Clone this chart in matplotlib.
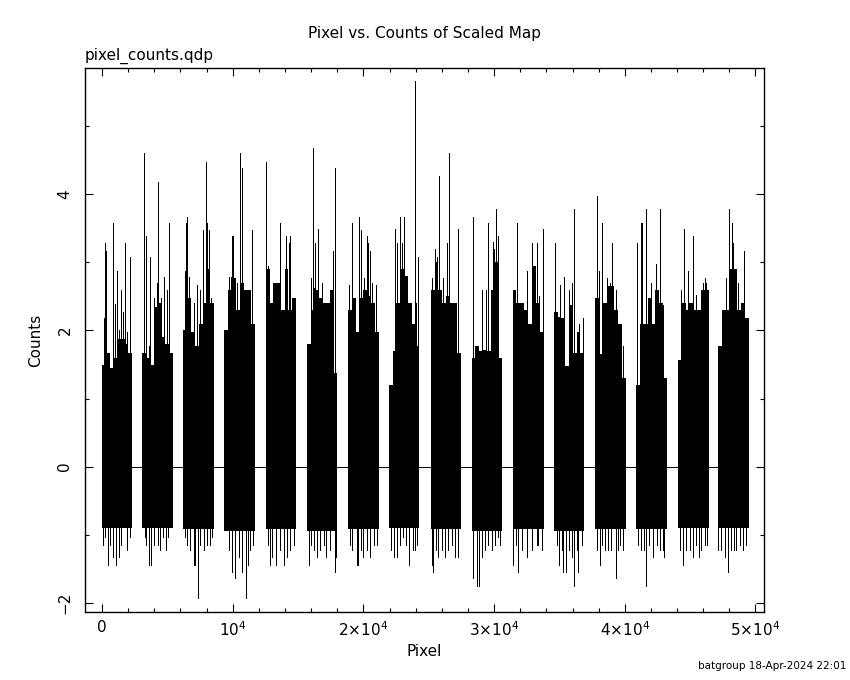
import numpy as np
import matplotlib
matplotlib.use("Agg")
import matplotlib.pyplot as plt
from matplotlib.ticker import FixedLocator, FixedFormatter, MultipleLocator

# Sixteen detector blocks (pixel index ranges); gaps between them read as 0 counts.
BLOCK_START = [0, 3094, 6227, 9360, 12546, 15678, 18834, 21944,
               25153, 28285, 31418, 34574, 37729, 40862, 44071, 47127]
BLOCK_END = [2307, 5440, 8596, 11728, 14838, 18016, 21180, 24282,
             27468, 30624, 33786, 36889, 40075, 43231, 46417, 49473]

# Bottom of the dense core in each block (counts)
CORE_LOW = [-0.90, -0.90, -0.92, -0.94, -0.92, -0.94, -0.92, -0.90,
            -0.92, -0.94, -0.92, -0.94, -0.92, -0.92, -0.90, -0.90]

# Upper envelope of the dense region, 8 equal sub-bins per block (counts)
SKYLINE = [
    [1.50, 1.67, 1.45, 1.60, 1.88, 1.88, 1.80, 1.67],
    [1.67, 1.60, 1.50, 2.35, 2.40, 1.90, 1.80, 1.67],
    [2.00, 2.48, 1.98, 1.77, 2.10, 2.40, 2.90, 2.40],
    [2.00, 2.60, 2.77, 2.30, 2.70, 2.59, 2.59, 2.09],
    [2.90, 2.40, 2.70, 2.70, 2.30, 2.90, 2.30, 2.48],
    [1.80, 2.30, 2.59, 2.48, 2.40, 2.40, 2.59, 1.38],
    [2.30, 2.48, 1.98, 2.48, 2.60, 2.50, 2.40, 1.98],
    [1.20, 1.70, 2.40, 2.90, 2.80, 2.40, 2.09, 1.77],
    [2.60, 3.00, 2.60, 2.40, 2.50, 2.40, 2.40, 1.67],
    [1.60, 1.77, 1.70, 1.72, 1.70, 2.60, 3.00, 1.60],
    [2.59, 2.40, 2.40, 2.30, 2.10, 2.95, 2.40, 1.98],
    [2.27, 2.20, 2.19, 1.48, 2.37, 1.67, 1.98, 1.67],
    [2.48, 1.65, 2.40, 2.66, 2.66, 2.30, 2.10, 1.30],
    [1.20, 2.10, 2.10, 2.48, 2.09, 2.60, 2.40, 1.30],
    [1.56, 2.40, 2.30, 2.40, 2.30, 2.30, 2.60, 2.60],
    [1.77, 2.30, 2.30, 2.90, 2.90, 2.30, 2.40, 2.19],
]

# Tall upward spikes: pixel index and counts
UP_X = [
    140, 267, 344, 828, 1006, 1184, 1337, 1464, 1592, 1745, 1923, 2127,
    3197, 3349, 3579, 3680, 3961, 4241, 4292, 4496, 4776, 4979, 5132,
    6329, 6406, 6508, 6635, 7017, 7272, 7527, 7730, 7934, 8010, 8163, 8316,
    9716, 9869, 9945, 10021, 10327, 10531, 10684, 11499,
    12569, 12722, 13639, 14047, 14276, 14352,
    16008, 16110, 16238, 16314, 16492, 16823, 17459, 17713, 17866,
    18937, 19141, 19701, 19803, 20083, 20262, 20389, 20516, 20643, 20975,
    22400, 22553, 22808, 22935, 23113, 23928, 24056, 24209,
    25228, 25483, 25661, 25814, 26119, 26374, 26578, 26883, 27266,
    28411, 29099, 29379, 29557, 29888, 30016, 30169, 30271,
    31722, 32486, 32918, 33043, 33301, 33451, 33705,
    34652, 35034, 35365, 35747, 35926, 36130, 36512, 36818,
    37836, 38014, 38294, 38651, 38855, 39008, 39364, 39874,
    40920, 41225, 41301, 41607, 42040, 42422, 42703, 42932,
    44329, 44507, 44838, 45220, 45475, 45985, 46137, 46239,
    47254, 47720, 47974, 48229, 48305, 48662, 49120, 49356,
]
UP_Y = [
    2.19, 3.28, 3.16, 3.58, 2.39, 2.88, 2.00, 2.59, 2.27, 3.28, 1.98, 3.08,
    4.60, 3.38, 1.77, 3.08, 2.48, 2.70, 4.18, 2.48, 2.78, 2.59, 3.58,
    2.88, 3.58, 3.66, 2.78, 2.40, 2.67, 2.59, 3.48, 4.47, 3.58, 3.48, 2.48,
    2.78, 2.78, 3.38, 3.38, 2.69, 4.60, 4.39, 3.48,
    4.47, 2.95, 3.58, 3.38, 3.28, 3.38,
    2.77, 4.68, 2.62, 3.28, 3.49, 2.69, 2.40, 3.16, 4.39,
    2.67, 3.58, 3.66, 3.48, 2.77, 3.38, 3.28, 3.16, 2.69, 2.67,
    3.49, 3.29, 3.66, 3.29, 3.66, 5.67, 2.40, 3.08,
    2.77, 3.19, 3.08, 4.27, 2.77, 3.29, 4.60, 2.40, 3.49,
    3.66, 2.59, 2.59, 3.58, 3.30, 3.19, 3.78, 3.38,
    3.58, 2.87, 3.28, 2.48, 3.29, 2.50, 3.49,
    3.28, 2.67, 2.78, 2.59, 2.69, 3.78, 2.09, 2.19,
    3.98, 2.88, 3.58, 2.77, 2.69, 3.29, 2.59, 1.77,
    3.29, 3.58, 3.58, 3.78, 2.69, 2.98, 3.78, 2.37,
    2.59, 3.49, 2.88, 3.38, 2.52, 2.69, 2.77, 2.69,
    1.77, 2.77, 3.78, 3.58, 3.28, 2.69, 3.16, 2.19,
]

# Downward spikes below the core: pixel index and counts
DOWN_X = [
    64, 216, 446, 649, 828, 1082, 1286, 1464, 1923, 2178,
    3273, 3400, 3629, 3782, 3961, 4266, 4470, 4674, 4878, 5030,
    6329, 6508, 6762, 7017, 7094, 7349, 7527, 7833, 8036, 8240, 8418,
    9716, 9971, 10175, 10480, 10710, 10990, 11143, 11347, 11551,
    12697, 12875, 13002, 13308, 13639, 13945, 14149, 14403, 14658,
    15804, 16008, 16238, 16441, 16696, 16951, 17154, 17409, 17790, 17918,
    18988, 19115, 19497, 19624, 19803, 20007, 20262, 20516, 20822, 21026,
    22095, 22349, 22553, 22808, 23011, 23266, 23521, 23776, 23954, 24082,
    25228, 25356, 25560, 25738, 25992, 26272, 26502, 26756, 27011, 27266,
    28411, 28666, 28870, 29048, 29303, 29557, 29812, 30067, 30322, 30449,
    31468, 31671, 31850, 32104, 32486, 32868, 33250, 33379, 33634,
    34779, 34983, 35161, 35289, 35492, 35747, 35926, 36130, 36308, 36436, 36690,
    37836, 38090, 38294, 38473, 38727, 38982, 39313, 39491, 39670, 39874,
    40996, 41250, 41505, 41633, 41888, 42142, 42448, 42703, 42906, 43034,
    44202, 44456, 44711, 44966, 45220, 45475, 45679, 45857, 46112, 46290,
    47127, 47382, 47636, 47891, 48146, 48324, 48528, 48783, 49037, 49292,
]
DOWN_Y = [
    -1.15, -1.04, -1.45, -1.15, -1.33, -1.45, -1.33, -1.15, -1.22, -1.04,
    -1.04, -1.15, -1.45, -1.45, -1.15, -1.15, -1.22, -1.04, -1.22, -1.04,
    -1.04, -1.15, -1.22, -1.45, -1.45, -1.93, -1.15, -1.22, -1.15, -1.15, -1.04,
    -1.22, -1.54, -1.64, -1.33, -1.54, -1.93, -1.45, -1.22, -1.15,
    -1.15, -1.45, -1.33, -1.45, -1.22, -1.45, -1.33, -1.22, -1.15,
    -1.45, -1.15, -1.22, -1.33, -1.22, -1.15, -1.33, -1.22, -1.54, -1.33,
    -1.15, -1.22, -1.45, -1.45, -1.22, -1.33, -1.22, -1.33, -1.15, -1.15,
    -1.22, -1.33, -1.33, -1.15, -1.04, -1.15, -1.45, -1.22, -1.22, -1.15,
    -1.45, -1.54, -1.22, -1.33, -1.22, -1.33, -1.22, -1.15, -1.33, -1.33,
    -1.64, -1.75, -1.75, -1.33, -1.22, -1.15, -1.22, -1.15, -1.04, -1.15,
    -1.45, -1.15, -1.54, -1.22, -1.33, -1.22, -1.15, -1.15, -1.22,
    -1.15, -1.45, -1.22, -1.54, -1.54, -1.22, -1.33, -1.75, -1.22, -1.54, -1.15,
    -1.22, -1.45, -1.15, -1.22, -1.22, -1.22, -1.64, -1.22, -1.15, -1.22,
    -1.15, -1.22, -1.22, -1.75, -1.15, -1.33, -1.15, -1.22, -1.22, -1.33,
    -1.22, -1.45, -1.22, -1.22, -1.33, -1.15, -1.33, -1.22, -1.15, -1.15,
    -1.22, -1.22, -1.33, -1.54, -1.22, -1.22, -1.22, -1.15, -1.22, -1.15,
]

X_TICKS = [0, 10000, 20000, 30000, 40000, 50000]
X_TICK_LABELS = ["0", "10$^4$", "2\u00d710$^4$", "3\u00d710$^4$", "4\u00d710$^4$", "5\u00d710$^4$"]
Y_TICKS = [-2, 0, 2, 4]
Y_TICK_LABELS = ["\u22122", "0", "2", "4"]

plt.rcParams.update({
    "font.family": "DejaVu Sans",
    "font.size": 11,
    "mathtext.default": "regular",
    "axes.linewidth": 1.0,
})

fig = plt.figure(figsize=(8.5, 6.8), dpi=100)
ax = fig.add_axes([0.1, 0.1004, 0.7988, 0.7992])

LW = 0.6  # about one device pixel

# zero counts in the gaps between blocks
gap_lo = BLOCK_END[:-1]
gap_hi = BLOCK_START[1:]
ax.hlines(np.zeros(len(gap_lo)), gap_lo, gap_hi, color="black", lw=LW, antialiased=False)

for s, e, lo, sky in zip(BLOCK_START, BLOCK_END, CORE_LOW, SKYLINE):
    edges = np.linspace(s, e, len(sky) + 1)
    top = np.r_[sky, sky[-1]]
    ax.fill_between(edges, lo, top, step="post", color="black", lw=0, antialiased=False)

ax.vlines(UP_X, np.zeros(len(UP_X)), UP_Y, color="black", lw=LW, antialiased=False)
ax.vlines(DOWN_X, DOWN_Y, np.zeros(len(DOWN_X)), color="black", lw=LW, antialiased=False)

ax.set_xlim(-1300, 50650)
ax.set_ylim(-2.13, 5.85)

ax.xaxis.set_major_locator(FixedLocator(X_TICKS))
ax.xaxis.set_major_formatter(FixedFormatter(X_TICK_LABELS))
ax.xaxis.set_minor_locator(MultipleLocator(2000))
ax.yaxis.set_major_locator(FixedLocator(Y_TICKS))
ax.yaxis.set_major_formatter(FixedFormatter(Y_TICK_LABELS))
ax.yaxis.set_minor_locator(MultipleLocator(1))
for lab in ax.get_yticklabels():
    lab.set_rotation(90)
    lab.set_va("center")

ax.tick_params(which="both", direction="in", top=True, right=True, width=0.8, colors="black")
ax.tick_params(which="major", length=5.8)
ax.tick_params(which="minor", length=3.0)
ax.tick_params(axis="x", pad=6)
ax.tick_params(axis="y", pad=9)

ax.set_xlabel("Pixel", labelpad=4)
ax.set_ylabel("Counts", labelpad=10)

fig.text(0.5, 0.951, "Pixel vs. Counts of Scaled Map", ha="center", va="center", fontsize=11)
fig.text(0.1, 0.918, "pixel_counts.qdp", ha="left", va="center", fontsize=11)
fig.text(0.996, 0.02, "batgroup 18-Apr-2024 22:01", ha="right", va="center", fontsize=7.5)

fig.savefig("out.png", dpi=100)
